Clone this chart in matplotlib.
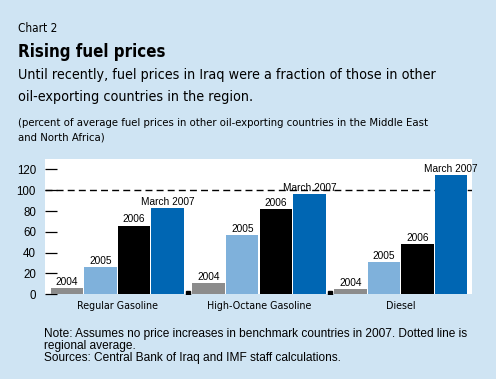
import matplotlib
matplotlib.use("Agg")
import matplotlib.pyplot as plt

categories = ["Regular Gasoline", "High-Octane Gasoline", "Diesel"]
periods = ["2004", "2005", "2006", "March 2007"]
values = {
    "2004": [6, 11, 5],
    "2005": [26, 57, 31],
    "2006": [66, 82, 48],
    "March 2007": [83, 96, 115],
}
regional_avg = 100
yticks = [0, 20, 40, 60, 80, 100, 120]

BG = "#cfe4f3"
COLORS = {"2004": "#8c8c8c", "2005": "#7fb1db", "2006": "#000000", "March 2007": "#0066b3"}
COND = dict(family="DejaVu Sans", stretch="condensed")
SANS = dict(family=["Liberation Sans", "DejaVu Sans"])

W, H = 496, 379
fig = plt.figure(figsize=(W / 100, H / 100), dpi=100, facecolor=BG)
ax = fig.add_axes([45 / W, 1 - 294.3 / H, 427 / W, (294.3 - 159) / H])
ax.set_facecolor("white")

step = 4.22      # group period in bar widths
bw = 0.97
centers = []
for g, cat in enumerate(categories):
    x0 = g * step
    centers.append(x0 + 2)
    for i, p in enumerate(periods):
        x = x0 + i + 0.5
        v = values[p][g]
        ax.bar(x, v, width=bw, color=COLORS[p], zorder=2)
        ax.annotate(p, (x, v), xytext=(0, 0.8), textcoords="offset points",
                    ha="center", va="bottom", fontsize=7.3, zorder=3, **SANS)

# small separators between groups
seps = [(g * step + 4 + (g + 1) * step) / 2 for g in range(len(categories) - 1)]
ax.plot(seps, [1.5] * len(seps), ls="none", marker="s", ms=2.3, color="black", zorder=3)

ax.axhline(regional_avg, color="black", lw=1.0, dashes=(5, 3), zorder=1)

ax.set_xlim(-0.15, 2 * step + 4 + 0.12)
ax.set_ylim(0, 130)
ax.set_yticks(yticks)
ax.set_yticklabels([str(t) for t in yticks], fontsize=8.3, **SANS)
ax.tick_params(axis="y", direction="in", length=8.6, width=0.9, pad=6.5)
ax.set_xticks(centers)
ax.set_xticklabels(categories, fontsize=7.7, **COND)
ax.tick_params(axis="x", length=0, pad=4.5)
for sp in ax.spines.values():
    sp.set_visible(False)

def ftext(x, y, s, **kw):
    fig.text(x / W, 1 - y / H, s, va="center", ha="left", **kw)

ftext(18, 28.5, "Chart 2", fontsize=8.5, **COND)
ftext(18, 52, "Rising fuel prices", fontsize=12.2, weight="bold", **COND)
ftext(18, 75.5, "Until recently, fuel prices in Iraq were a fraction of those in other",
      fontsize=10.3, **COND)
ftext(18, 97.5, "oil-exporting countries in the region.", fontsize=10.3, **COND)
ftext(18, 123, "(percent of average fuel prices in other oil-exporting countries in the Middle East",
      fontsize=8.1, **COND)
ftext(18, 137, "and North Africa)", fontsize=8.1, **COND)

ftext(44, 334.5, "Note: Assumes no price increases in benchmark countries in 2007. Dotted line is",
      fontsize=8.6, **SANS)
ftext(44, 346.5, "regional average.", fontsize=8.6, **SANS)
ftext(44, 358, "Sources: Central Bank of Iraq and IMF staff calculations.", fontsize=8.6, **SANS)

fig.savefig("out.png", dpi=100, facecolor=BG)
